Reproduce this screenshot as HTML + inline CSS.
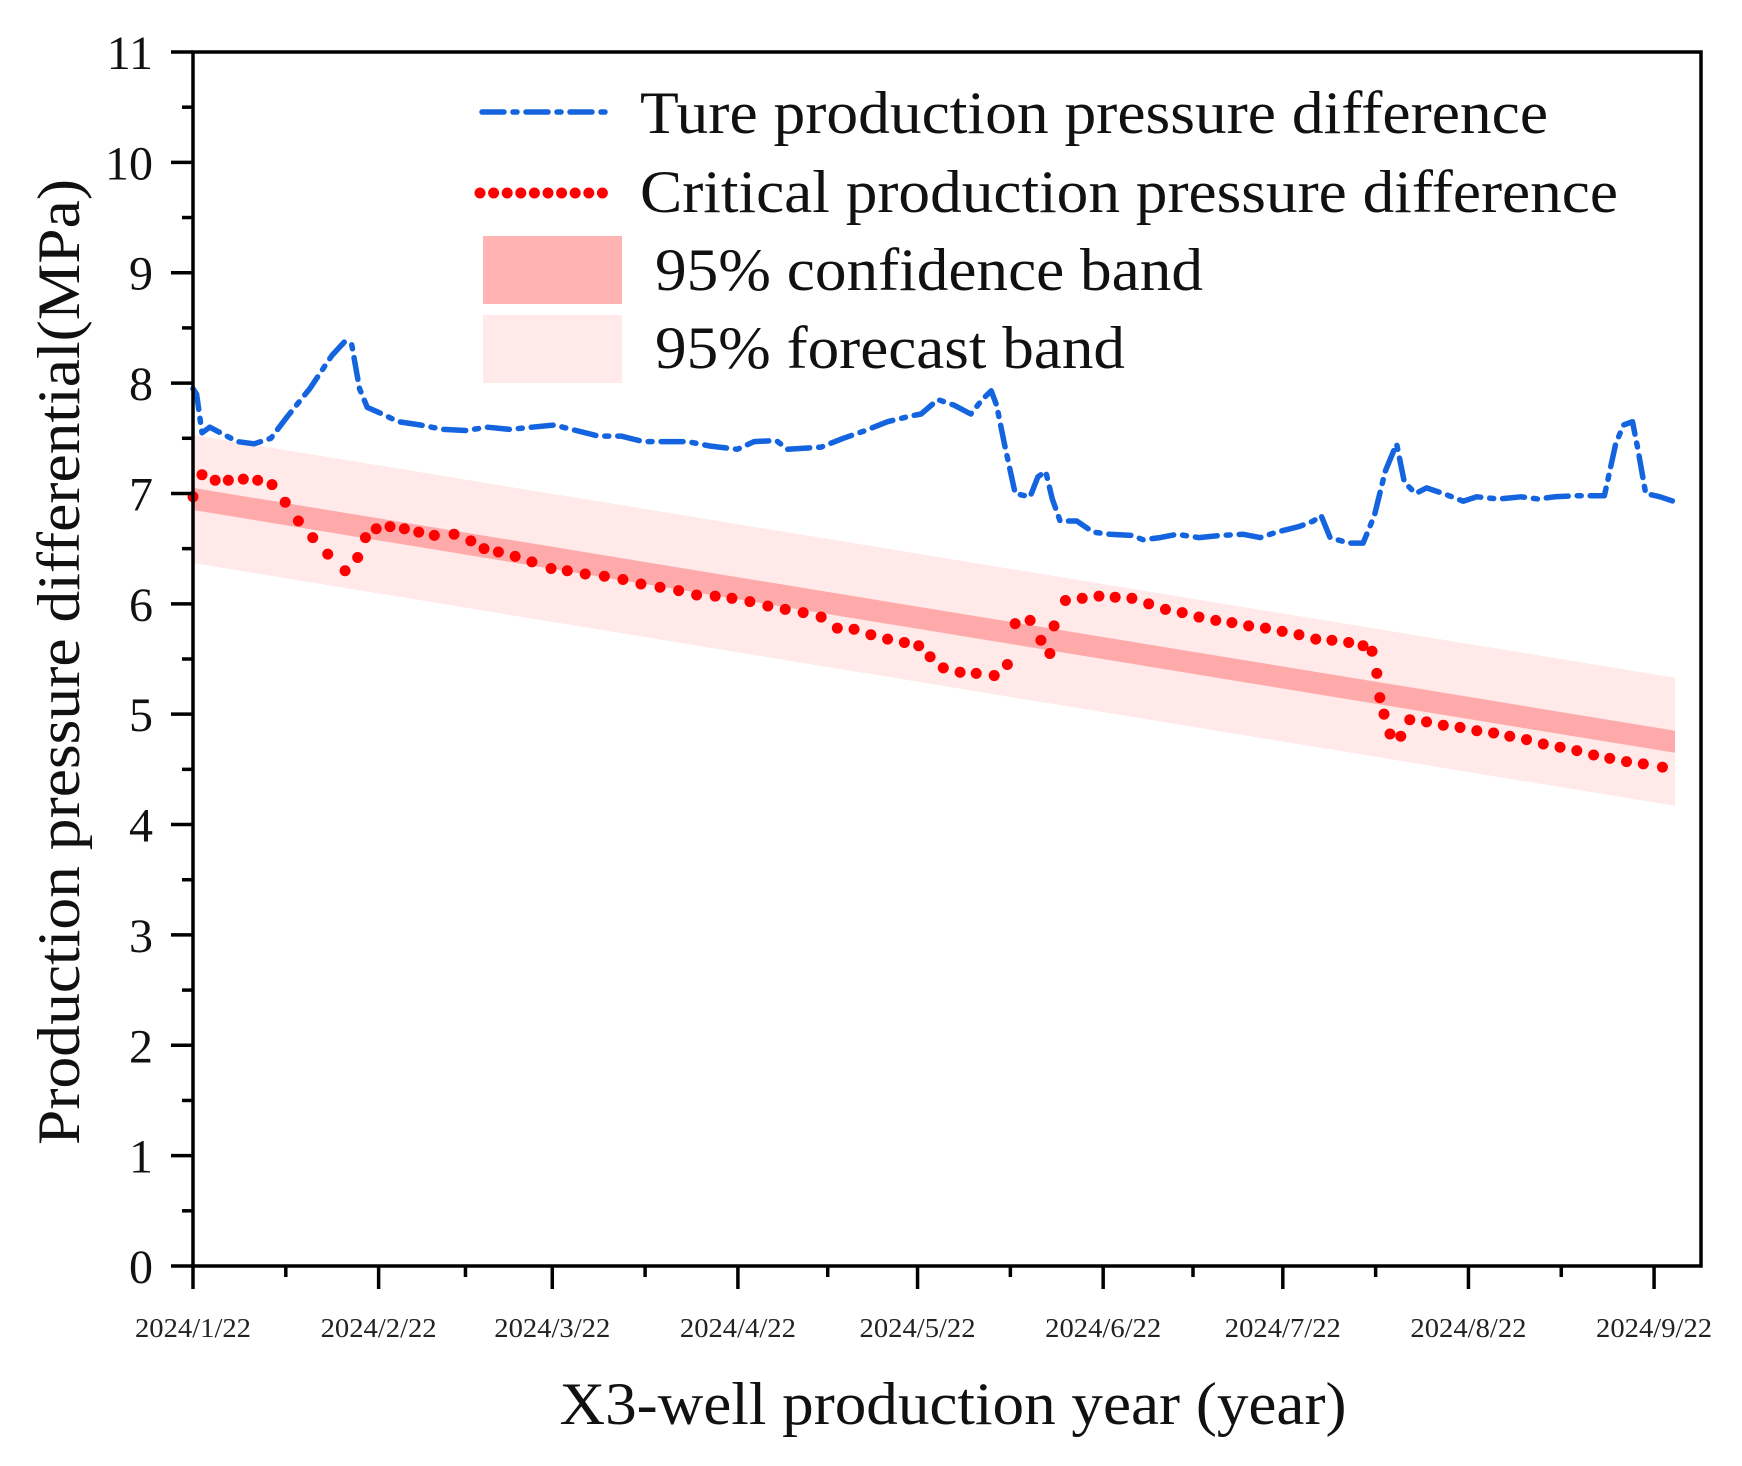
<!DOCTYPE html>
<html><head><meta charset="utf-8"><style>
html,body{margin:0;padding:0;background:#fff}
svg{display:block;font-family:"Liberation Serif",serif}
</style></head><body>
<svg id="chart" width="1742" height="1466" viewBox="0 0 1742 1466">
<g id="bands"></g>
<g id="series"></g>
<g id="axes"></g>
<g id="legend"></g>
</svg>
<script>
const tickDays=[0,31,60,91,121,152,182,213,244];
const tickLabels=["2024/1/22","2024/2/22","2024/3/22","2024/4/22","2024/5/22","2024/6/22","2024/7/22","2024/8/22","2024/9/22"];
const yTicks=[0,1,2,3,4,5,6,7,8,9,10,11];
const trueDays=[0,0.6,1.5,2.8,4.6,7.4,10.2,13,15.8,19.5,23.2,25.4,26.5,27.8,29.1,31.6,34.3,38,41.8,45.5,49.2,52.9,56.6,60.3,64,67.7,71.5,75.2,78.9,82.6,86.3,90.9,93.7,97.4,99.3,104.9,108.6,112.3,116,119.7,121.6,124.4,127.1,129.9,131.8,133.3,134.2,135.5,137.3,139.8,141.1,142.4,143.5,144.8,147.6,150.3,153.1,156.8,158.7,161.5,164.3,168,171.7,175.4,178.2,181,184.7,187.1,188.4,189.9,193,195.4,197.3,199.1,201,202.3,204.2,206,208.8,212.1,214.4,218.1,221.8,224.6,227.4,231.1,235.7,237.6,238.9,240.4,241.3,242.6,245,247.2];
const trueVals=[7.95,7.9,7.55,7.6,7.55,7.47,7.45,7.5,7.7,7.95,8.25,8.38,8.35,7.95,7.78,7.72,7.65,7.62,7.58,7.57,7.6,7.58,7.6,7.62,7.57,7.52,7.52,7.47,7.47,7.47,7.43,7.4,7.47,7.48,7.4,7.42,7.5,7.57,7.65,7.7,7.72,7.85,7.8,7.72,7.85,7.93,7.8,7.45,7.0,6.97,7.15,7.2,6.95,6.75,6.75,6.65,6.63,6.62,6.58,6.6,6.63,6.6,6.62,6.63,6.6,6.65,6.7,6.75,6.8,6.6,6.55,6.55,6.8,7.2,7.45,7.1,7.0,7.05,7.0,6.93,6.97,6.95,6.97,6.95,6.97,6.98,6.98,7.45,7.62,7.65,7.4,7.0,6.97,6.93];
const critDays=[0,1.5,3.7,5.9,8.4,10.8,13.2,15.4,17.6,20,22.5,25.4,27.5,28.8,30.6,32.9,35.3,37.7,40.3,43.6,46.4,48.6,51,53.8,56.6,59.8,62.5,65.5,68.7,71.8,74.8,78,81.1,84.1,87.2,90,93,96,98.9,101.9,104.9,107.6,110.4,113.2,116,118.8,121.2,123.1,125.3,128.1,130.8,133.8,136,137.3,139.8,141.6,143.1,143.8,145.7,148.5,151.3,154,156.8,159.6,162.4,165.2,168,170.8,173.5,176.3,179.1,181.9,184.7,187.5,190.2,193,195.4,196.9,197.7,198.2,198.9,199.9,201.7,203.2,206,208.8,211.6,214.4,217.2,219.9,222.7,225.5,228.3,231.1,233.9,236.6,239.4,242.2,245.4];
const critVals=[6.97,7.17,7.12,7.12,7.13,7.12,7.08,6.92,6.75,6.6,6.45,6.3,6.42,6.6,6.68,6.7,6.68,6.65,6.62,6.63,6.57,6.5,6.47,6.43,6.38,6.32,6.3,6.27,6.25,6.22,6.18,6.15,6.12,6.08,6.07,6.05,6.02,5.98,5.95,5.92,5.88,5.78,5.77,5.72,5.68,5.65,5.62,5.52,5.42,5.38,5.37,5.35,5.45,5.82,5.85,5.67,5.55,5.8,6.03,6.05,6.07,6.06,6.05,6.0,5.95,5.92,5.88,5.85,5.83,5.8,5.78,5.75,5.72,5.68,5.67,5.65,5.62,5.57,5.37,5.15,5.0,4.82,4.8,4.95,4.93,4.9,4.88,4.85,4.83,4.8,4.77,4.73,4.7,4.67,4.63,4.6,4.57,4.55,4.52];
const fitStart=[0,6.95];
const fitEnd=[247.5,4.75];
const confHalf=[0.1];
const foreHalf=[0.58];

const NS="http://www.w3.org/2000/svg";
const X0=193,X1=1701,Y0=1266,Y1=52;
const xs=d=>X0+d*5.988;
const ys=v=>Y0-(v/11)*(Y0-Y1);
function mk(tag,attrs,parent){const e=document.createElementNS(NS,tag);for(const k in attrs)e.setAttribute(k,attrs[k]);parent.appendChild(e);return e;}
const bands=document.getElementById('bands'),series=document.getElementById('series'),axes=document.getElementById('axes'),legend=document.getElementById('legend');

function band(h,color,name){
  const fy=d=>fitStart[1]+(fitEnd[1]-fitStart[1])*(d-fitStart[0])/(fitEnd[0]-fitStart[0]);
  const d0=fitStart[0],d1=fitEnd[0];
  const p=`${xs(d0)},${ys(fy(d0)+h)} ${xs(d1)},${ys(fy(d1)+h)} ${xs(d1)},${ys(fy(d1)-h)} ${xs(d0)},${ys(fy(d0)-h)}`;
  const e=mk('polygon',{points:p,fill:color},bands);
  
  
}
band(foreHalf[0],'#ffe9e9','forecast-band');
band(confHalf[0],'#ffaaaa','confidence-band');

const tp=trueDays.map((d,i)=>`${xs(d).toFixed(1)},${ys(trueVals[i]).toFixed(1)}`).join(' ');
const tl=mk('polyline',{points:tp,fill:'none',stroke:'#1464e0','stroke-width':5.5,'stroke-dasharray':'22 9 4 9','stroke-linecap':'round','stroke-linejoin':'round'},series);


critDays.forEach((d,i)=>{
  const c=mk('circle',{cx:xs(d),cy:ys(critVals[i]),r:5.5,fill:'#ff0000'},series);
  
  
});

const fr=mk('rect',{x:X0,y:Y1,width:X1-X0,height:Y0-Y1,fill:'none',stroke:'#000','stroke-width':3.5},axes);


yTicks.forEach(v=>{
  const y=ys(v);
  mk('line',{x1:X0-22,x2:X0,y1:y,y2:y,stroke:'#000','stroke-width':3.5},axes);
  if(v<11) mk('line',{x1:X0-11,x2:X0,y1:ys(v+0.5),y2:ys(v+0.5),stroke:'#000','stroke-width':3.5},axes);
  const t=mk('text',{x:153,y:y+17,'text-anchor':'end','font-size':48,fill:'#111'},axes);
  t.textContent=v;
  
  
});
tickDays.forEach((d,i)=>{
  const x=xs(d);
  mk('line',{x1:x,x2:x,y1:Y0,y2:Y0+23,stroke:'#000','stroke-width':3.5},axes);
  if(i<tickDays.length-1){const m=xs((d+tickDays[i+1])/2);mk('line',{x1:m,x2:m,y1:Y0,y2:Y0+11,stroke:'#000','stroke-width':3.5},axes);}
  const t=mk('text',{x:x,y:1337,'text-anchor':'middle','font-size':27,fill:'#222',textLength:116,lengthAdjust:'spacingAndGlyphs'},axes);
  t.textContent=tickLabels[i];
  
  
});
const xt=mk('text',{x:953,y:1424,'text-anchor':'middle','font-size':60,fill:'#111',textLength:787,lengthAdjust:'spacingAndGlyphs'},axes);
xt.textContent='X3-well production year (year)';


const yt=mk('text',{x:0,y:0,'text-anchor':'middle','font-size':60,fill:'#111',textLength:966,lengthAdjust:'spacingAndGlyphs',transform:'translate(79,662) rotate(-90)'},axes);
yt.textContent='Production pressure differential(MPa)';



const l1=mk('line',{x1:482,x2:614,y1:112,y2:112,stroke:'#1464e0','stroke-width':5.5,'stroke-dasharray':'22 9 4 9','stroke-linecap':'round'},legend);


for(let i=0;i<10;i++){const c=mk('circle',{cx:480+i*13.6,cy:193,r:5.5,fill:'#ff0000'},legend);}
const s1=mk('rect',{x:483,y:236,width:139,height:68,fill:'#ffb3b3'},legend);


const s2=mk('rect',{x:483,y:315,width:139,height:68,fill:'#ffe9e9'},legend);


[['Ture production pressure difference',640,133,908,'legend-true-label'],['Critical production pressure difference',640,212,978,'legend-critical-label'],['95% confidence band',655,290,548,'legend-confidence-label'],['95% forecast band',655,368,470,'legend-forecast-label']].forEach(r=>{
  const t=mk('text',{x:r[1],y:r[2],'font-size':60,fill:'#111',textLength:r[3],lengthAdjust:'spacingAndGlyphs'},legend);
  t.textContent=r[0];
  
  
});
</script>
</body></html>
